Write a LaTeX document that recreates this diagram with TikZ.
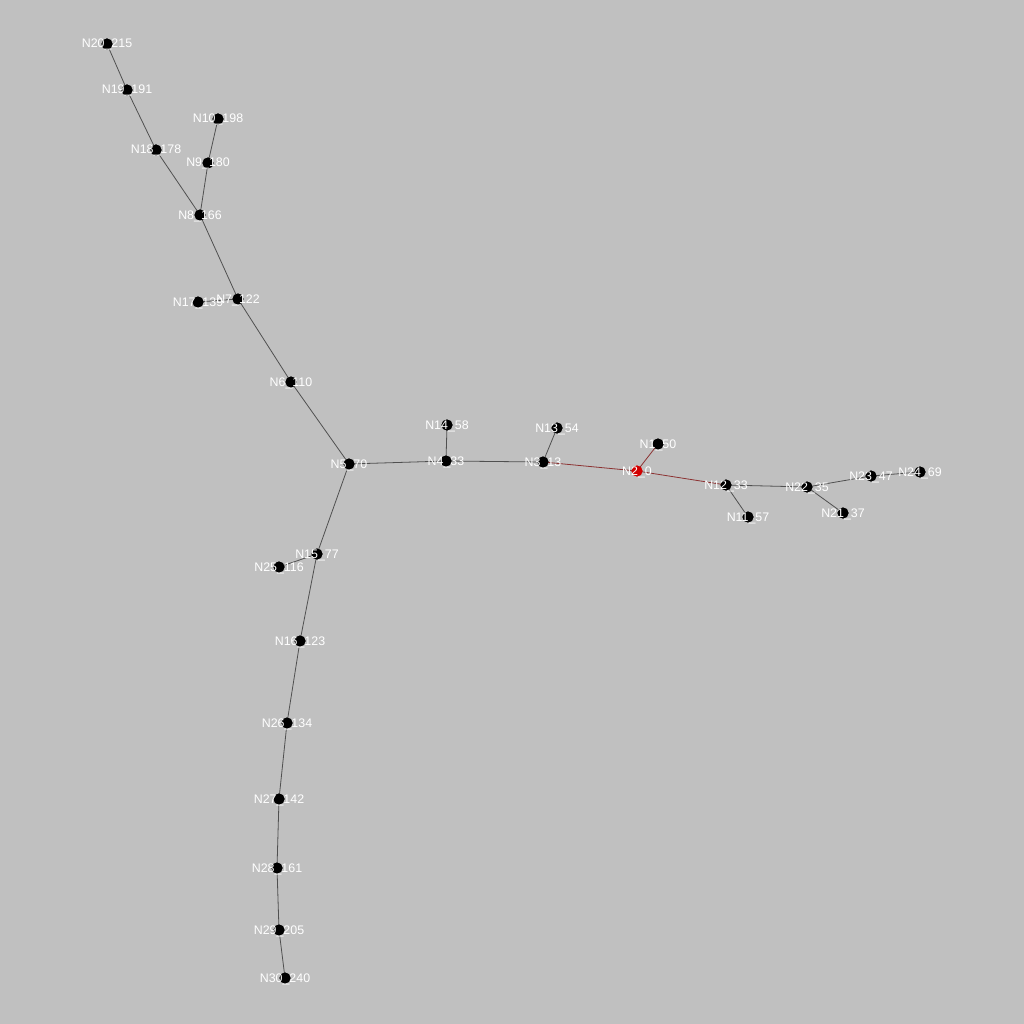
\documentclass[tikz,border=0pt]{standalone}
\usepackage{fontspec}
\setmainfont{Liberation Sans}
\definecolor{bg}{RGB}{192,192,192}
\definecolor{edgec}{RGB}{80,80,80}
\definecolor{rededge}{RGB}{140,50,50}
\definecolor{rootc}{RGB}{210,0,0}
\begin{document}
\begin{tikzpicture}[x=1pt,y=1pt,
  dot/.style={circle,fill=black,inner sep=0pt,minimum size=11pt},
  rootdot/.style={circle,fill=rootc,inner sep=0pt,minimum size=11pt},
  lbl/.style={text=white,font=\fontsize{12.4}{14}\selectfont,inner sep=0pt,anchor=base,yshift=-4pt},
  edge/.style={draw=edgec,line width=0.8pt},
  redge/.style={draw=rededge,line width=0.8pt}]
\fill[bg] (0,0) rectangle (1024,-1024);
\useasboundingbox (0,0) rectangle (1024,-1024);
% nodes
\node[dot] (n20) at (107,-44) {};
\node[dot] (n19) at (127,-90) {};
\node[dot] (n10) at (218,-119) {};
\node[dot] (n18) at (156,-150) {};
\node[dot] (n9) at (208,-163) {};
\node[dot] (n8) at (200,-215) {};
\node[dot] (n17) at (198,-302) {};
\node[dot] (n7) at (238,-299) {};
\node[dot] (n6) at (291,-382) {};
\node[dot] (n5) at (349,-464) {};
\node[dot] (n4) at (446,-461) {};
\node[dot] (n14) at (447,-425) {};
\node[dot] (n13) at (557,-428) {};
\node[dot] (n3) at (543,-462) {};
\node[dot] (n1) at (658,-444) {};
\node[rootdot] (n2) at (637,-471) {};
\node[dot] (n12) at (726,-485) {};
\node[dot] (n11) at (748,-517) {};
\node[dot] (n22) at (807,-487) {};
\node[dot] (n23) at (871,-476) {};
\node[dot] (n24) at (920,-472) {};
\node[dot] (n21) at (843,-513) {};
\node[dot] (n15) at (317,-554) {};
\node[dot] (n25) at (279,-567) {};
\node[dot] (n16) at (300,-641) {};
\node[dot] (n26) at (287,-723) {};
\node[dot] (n27) at (279,-799) {};
\node[dot] (n28) at (277,-868) {};
\node[dot] (n29) at (279,-930) {};
\node[dot] (n30) at (285,-978) {};
% edges
\path[edge] (n20.center) -- (n19.center) -- (n18.center) -- (n8.center);
\path[edge] (n10.center) -- (n9.center) -- (n8.center);
\path[edge] (n8.center) -- (n7.center) -- (n6.center) -- (n5.center) -- (n4.center) -- (n3.center);
\path[edge] (n7.center) -- (n17.center);
\path[edge] (n4.center) -- (n14.center);
\path[edge] (n3.center) -- (n13.center);
\path[redge] (n3.center) -- (n2.center) -- (n12.center);
\path[redge] (n2.center) -- (n1.center);
\path[edge] (n12.center) -- (n11.center);
\path[edge] (n12.center) -- (n22.center) -- (n23.center) -- (n24.center);
\path[edge] (n22.center) -- (n21.center);
\path[edge] (n5.center) -- (n15.center) -- (n16.center) -- (n26.center) -- (n27.center) -- (n28.center) -- (n29.center) -- (n30.center);
\path[edge] (n15.center) -- (n25.center);
% redraw dots over edges
\foreach \n in {n20,n19,n10,n18,n9,n8,n17,n7,n6,n5,n4,n14,n13,n3,n1,n12,n11,n22,n23,n24,n21,n15,n25,n16,n26,n27,n28,n29,n30}
  \fill[black] (\n.center) circle (5.5pt);
\fill[rootc] (n2.center) circle (5.5pt);
% labels
\node[lbl] (l20) at (n20) {N20\_215};
\node[lbl] (l19) at (n19) {N19\_191};
\node[lbl] (l10) at (n10) {N10\_198};
\node[lbl] (l18) at (n18) {N18\_178};
\node[lbl] (l9) at (n9) {N9\_180};
\node[lbl] (l8) at (n8) {N8\_166};
\node[lbl] (l17) at (n17) {N17\_139};
\node[lbl] (l7) at (n7) {N7\_122};
\node[lbl] (l6) at (n6) {N6\_110};
\node[lbl] (l5) at (n5) {N5\_70};
\node[lbl] (l4) at (n4) {N4\_33};
\node[lbl] (l14) at (n14) {N14\_58};
\node[lbl] (l13) at (n13) {N13\_54};
\node[lbl] (l3) at (n3) {N3\_13};
\node[lbl] (l1) at (n1) {N1\_50};
\node[lbl] (l2) at (n2) {N2\_0};
\node[lbl] (l12) at (n12) {N12\_33};
\node[lbl] (l11) at (n11) {N11\_57};
\node[lbl] (l22) at (n22) {N22\_35};
\node[lbl] (l23) at (n23) {N23\_47};
\node[lbl] (l24) at (n24) {N24\_69};
\node[lbl] (l21) at (n21) {N21\_37};
\node[lbl] (l15) at (n15) {N15\_77};
\node[lbl] (l25) at (n25) {N25\_116};
\node[lbl] (l16) at (n16) {N16\_123};
\node[lbl] (l26) at (n26) {N26\_134};
\node[lbl] (l27) at (n27) {N27\_142};
\node[lbl] (l28) at (n28) {N28\_161};
\node[lbl] (l29) at (n29) {N29\_205};
\node[lbl] (l30) at (n30) {N30\_240};
\end{tikzpicture}
\end{document}
